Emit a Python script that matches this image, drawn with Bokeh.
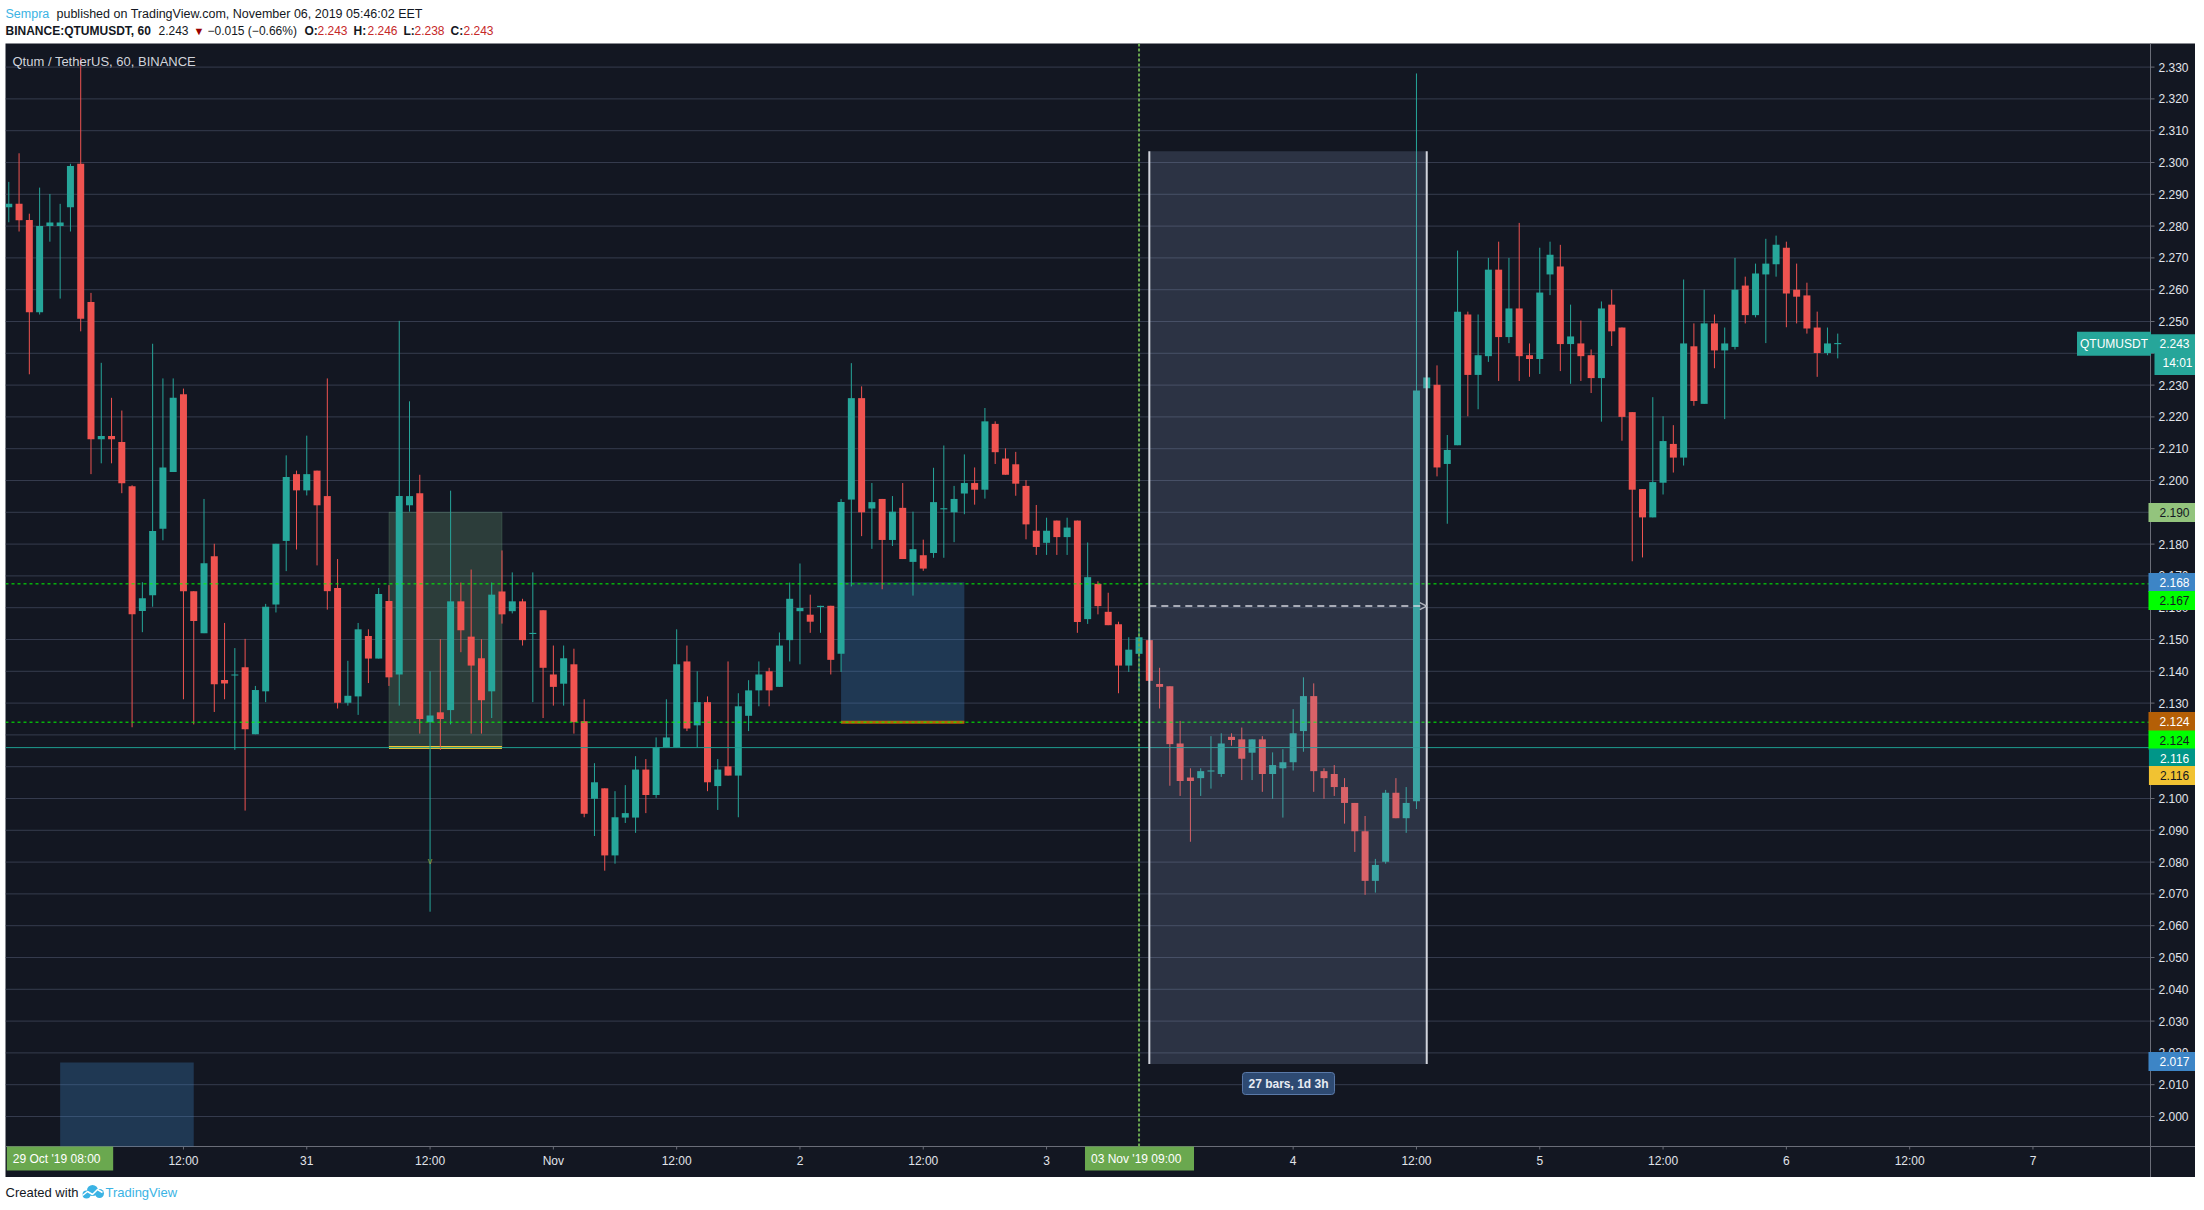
import numpy as np
from bokeh.plotting import figure
from bokeh.models import Range1d, Label, Arrow, OpenHead, ColumnDataSource
from bokeh.layouts import column
from bokeh.embed import file_html
from bokeh.resources import INLINE
from bokeh.core.properties import value

# ---------------- data (1h bars, hours from 01 Nov 2019 00:00) ----------------
hours = list(range(-53, 126))

opens = [2.2859, 2.2870, 2.2819, 2.2529, 2.2800, 2.2800, 2.2859, 2.2996, 2.2561, 2.2130,
         2.2140, 2.2121, 2.1982, 2.1590, 2.1639, 2.1848, 2.2027, 2.2271, 2.1652, 2.1520,
         2.1762, 2.1373, 2.1387, 2.1413, 2.1202, 2.1337, 2.1610, 2.1810, 2.2020, 2.1969,
         2.2031, 2.1951, 2.1662, 2.1301, 2.1321, 2.1511, 2.1440, 2.1621, 2.1390, 2.1922,
         2.1960, 2.1240, 2.1271, 2.1278, 2.1620, 2.1509, 2.1441, 2.1337, 2.1651, 2.1589,
         2.1620, 2.1518, 2.1592, 2.1390, 2.1361, 2.1422, 2.1243, 2.0999, 2.1032, 2.0821,
         2.0940, 2.0940, 2.1091, 2.1011, 2.1161, 2.1161, 2.1431, 2.1230, 2.1303, 2.1039,
         2.1101, 2.1072, 2.1260, 2.1340, 2.1400, 2.1351, 2.1498, 2.1589, 2.1578, 2.1603,
         2.1606, 2.1455, 2.1940, 2.2259, 2.1912, 2.1942, 2.1813, 2.1914, 2.1744, 2.1765,
         2.1772, 2.1910, 2.1900, 2.1959, 2.1992, 2.1971, 2.2178, 2.2069, 2.2051, 2.1983,
         2.1842, 2.1804, 2.1874, 2.1822, 2.1874, 2.1564, 2.1675, 2.1587, 2.1548, 2.1418,
         2.1455, 2.1498, 2.1360, 2.1353, 2.1173, 2.1066, 2.1064, 2.1086, 2.1077, 2.1194,
         2.1186, 2.1144, 2.1186, 2.1077, 2.1095, 2.1114, 2.1212, 2.1322, 2.1086, 2.1077,
         2.1036, 2.0986, 2.0897, 2.0741, 2.0801, 2.1018, 2.0938, 2.0991, 2.2290, 2.2301,
         2.2052, 2.2111, 2.2522, 2.2332, 2.2391, 2.2663, 2.2451, 2.2541, 2.2394, 2.2382,
         2.2648, 2.2673, 2.2429, 2.2431, 2.2394, 2.2322, 2.2553, 2.2481, 2.2215, 2.1973,
         2.1884, 2.1993, 2.2115, 2.2072, 2.2422, 2.2241, 2.2494, 2.2409, 2.2420, 2.2613,
         2.2520, 2.2648, 2.2680, 2.2732, 2.2600, 2.2582, 2.2481, 2.2401, 2.2430]

highs = [2.2939, 2.3029, 2.2839, 2.2921, 2.2901, 2.2870, 2.2996, 2.3330, 2.2590, 2.2370,
         2.2260, 2.2220, 2.1985, 2.1680, 2.2430, 2.2321, 2.2321, 2.2289, 2.1652, 2.1942,
         2.1801, 2.1552, 2.1473, 2.1502, 2.1354, 2.1612, 2.1801, 2.2079, 2.2031, 2.2141,
         2.2031, 2.2321, 2.1753, 2.1433, 2.1552, 2.1532, 2.1662, 2.1671, 2.2502, 2.2249,
         2.2018, 2.1400, 2.1501, 2.1968, 2.1679, 2.1720, 2.1501, 2.1679, 2.1780, 2.1711,
         2.1628, 2.1711, 2.1592, 2.1481, 2.1481, 2.1471, 2.1312, 2.1111, 2.1032, 2.1023,
         2.1042, 2.1133, 2.1124, 2.1192, 2.1312, 2.1532, 2.1481, 2.1400, 2.1321, 2.1124,
         2.1431, 2.1331, 2.1372, 2.1431, 2.1411, 2.1522, 2.1679, 2.1739, 2.1641, 2.1606,
         2.1606, 2.1942, 2.2369, 2.2296, 2.1992, 2.1942, 2.1951, 2.1992, 2.1902, 2.1814,
         2.2040, 2.2110, 2.1983, 2.2082, 2.2041, 2.2228, 2.2186, 2.2101, 2.2090, 2.2001,
         2.1923, 2.1883, 2.1874, 2.1883, 2.1874, 2.1805, 2.1683, 2.1647, 2.1556, 2.1507,
         2.1538, 2.1500, 2.1411, 2.1353, 2.1244, 2.1095, 2.1095, 2.1196, 2.1205, 2.1205,
         2.1223, 2.1186, 2.1196, 2.1145, 2.1155, 2.1281, 2.1381, 2.1362, 2.1095, 2.1105,
         2.1064, 2.0986, 2.0945, 2.0810, 2.1027, 2.1064, 2.1036, 2.3280, 2.2324, 2.2362,
         2.2143, 2.2723, 2.2531, 2.2522, 2.2700, 2.2751, 2.2700, 2.2810, 2.2431, 2.2732,
         2.2751, 2.2741, 2.2553, 2.2503, 2.2412, 2.2563, 2.2600, 2.2481, 2.2215, 2.1973,
         2.2262, 2.2202, 2.2174, 2.2632, 2.2494, 2.2600, 2.2522, 2.2481, 2.2700, 2.2641,
         2.2682, 2.2760, 2.2770, 2.2751, 2.2682, 2.2622, 2.2531, 2.2481, 2.2462]

lows = [2.2812, 2.2783, 2.2334, 2.2522, 2.2751, 2.2572, 2.2783, 2.2469, 2.2020, 2.2054,
        2.2054, 2.1960, 2.1224, 2.1523, 2.1603, 2.1812, 2.2027, 2.1312, 2.1233, 2.1520,
        2.1272, 2.1312, 2.1153, 2.0962, 2.1202, 2.1303, 2.1585, 2.1715, 2.1783, 2.1953,
        2.1733, 2.1594, 2.1283, 2.1292, 2.1263, 2.1363, 2.1440, 2.1354, 2.1292, 2.1902,
        2.1204, 2.0644, 2.1153, 2.1233, 2.1460, 2.1204, 2.1204, 2.1253, 2.1550, 2.1582,
        2.1481, 2.1303, 2.1253, 2.1292, 2.1292, 2.1204, 2.0941, 2.0882, 2.0773, 2.0795,
        2.0923, 2.0892, 2.0954, 2.1002, 2.1161, 2.1161, 2.1212, 2.1161, 2.1023, 2.0964,
        2.1072, 2.0941, 2.1212, 2.1290, 2.1290, 2.1351, 2.1431, 2.1422, 2.1521, 2.1521,
        2.1390, 2.1398, 2.1667, 2.1825, 2.1785, 2.1658, 2.1794, 2.1753, 2.1638, 2.1716,
        2.1757, 2.1757, 2.1806, 2.1894, 2.1924, 2.1943, 2.2052, 2.2018, 2.1952, 2.1815,
        2.1766, 2.1766, 2.1766, 2.1766, 2.1521, 2.1549, 2.1579, 2.1545, 2.1331, 2.1398,
        2.1339, 2.1370, 2.1283, 2.1040, 2.1008, 2.0864, 2.1008, 2.1031, 2.1068, 2.1166,
        2.1058, 2.1058, 2.1021, 2.0999, 2.0940, 2.1088, 2.1147, 2.1021, 2.0999, 2.1008,
        2.0921, 2.0832, 2.0697, 2.0704, 2.0795, 2.0938, 2.0892, 2.0967, 2.2290, 2.2013,
        2.1864, 2.2111, 2.2202, 2.2224, 2.2373, 2.2313, 2.2432, 2.2313, 2.2326, 2.2335,
        2.2583, 2.2344, 2.2304, 2.2313, 2.2275, 2.2185, 2.2423, 2.2125, 2.1746, 2.1758,
        2.1884, 2.1956, 2.2025, 2.2047, 2.2235, 2.2241, 2.2353, 2.2193, 2.2412, 2.2494,
        2.2513, 2.2432, 2.2641, 2.2482, 2.2494, 2.2462, 2.2326, 2.2394, 2.2384]

closes = [2.2870, 2.2818, 2.2529, 2.2800, 2.2811, 2.2811, 2.2989, 2.2509, 2.2130, 2.2140,
          2.2130, 2.1991, 2.1579, 2.1630, 2.1841, 2.2041, 2.2260, 2.1652, 2.1558, 2.1740,
          2.1359, 2.1362, 2.1390, 2.1218, 2.1341, 2.1603, 2.1801, 2.2011, 2.1969, 2.2020,
          2.1922, 2.1652, 2.1301, 2.1323, 2.1532, 2.1440, 2.1643, 2.1381, 2.1951, 2.1951,
          2.1250, 2.1261, 2.1250, 2.1620, 2.1529, 2.1418, 2.1309, 2.1641, 2.1579, 2.1620,
          2.1498, 2.1520, 2.1411, 2.1351, 2.1441, 2.1240, 2.0952, 2.1051, 2.0821, 2.0941,
          2.0954, 2.1091, 2.1011, 2.1161, 2.1192, 2.1422, 2.1220, 2.1303, 2.1051, 2.1091,
          2.1072, 2.1290, 2.1340, 2.1390, 2.1340, 2.1481, 2.1628, 2.1599, 2.1556, 2.1605,
          2.1436, 2.1932, 2.2259, 2.1900, 2.1932, 2.1813, 2.1902, 2.1753, 2.1784, 2.1723,
          2.1932, 2.1912, 2.1942, 2.1992, 2.1971, 2.2186, 2.2089, 2.2018, 2.1990, 2.1862,
          2.1791, 2.1842, 2.1822, 2.1852, 2.1555, 2.1696, 2.1605, 2.1545, 2.1418, 2.1468,
          2.1507, 2.1370, 2.1351, 2.1171, 2.1055, 2.1055, 2.1086, 2.1087, 2.1173, 2.1184,
          2.1125, 2.1186, 2.1077, 2.1105, 2.1114, 2.1205, 2.1322, 2.1086, 2.1064, 2.1036,
          2.0986, 2.0897, 2.0741, 2.0791, 2.1018, 2.0938, 2.0986, 2.2283, 2.2324, 2.2041,
          2.2096, 2.2531, 2.2332, 2.2394, 2.2663, 2.2451, 2.2541, 2.2391, 2.2382, 2.2591,
          2.2710, 2.2429, 2.2453, 2.2391, 2.2322, 2.2541, 2.2469, 2.2200, 2.1971, 2.1884,
          2.1995, 2.2124, 2.2072, 2.2431, 2.2250, 2.2494, 2.2409, 2.2431, 2.2600, 2.2520,
          2.2651, 2.2682, 2.2741, 2.2588, 2.2578, 2.2478, 2.2401, 2.2431, 2.2431]

price_ticks = [round(2.00 + 0.01 * i, 2) for i in range(34)]
time_tick_hours = [-36, -24, -12, 0, 12, 24, 36, 48, 72, 84, 96, 108, 120, 132, 144]
time_tick_labels = ["12:00", "31", "12:00", "Nov", "12:00", "2", "12:00", "3",
                    "4", "12:00", "5", "12:00", "6", "12:00", "7"]

# drawings on the chart (hours, prices)
green_zone = [-16.0, -5.0, 2.190, 2.116]
blue_zone = [28.0, 40.0, 2.168, 2.124]
corner_zone = [-48.0, -35.0, 2.017]
range_box = [58.0, 85.0, 2.3035, 2.0165]
range_mid = 2.1605
green_hlines = [2.1675, 2.124]
teal_hline = 2.116
marked_hour = 57

# ---------------- style / geometry ----------------
BG = "#131722"
GRID = "#363c4e"
UP = "#26a69a"
DOWN = "#ef5350"
AXC = "#e1e4ea"
SEP = "#6a6d78"
FONT = "Liberation Sans"
BLUE_TXT = "#3bb3e4"

PAGE_W = 2200
H_HDR, H_MAIN, H_FTR = 43, 1134, 28
MAIN_LEFT = 5                    # page x of the dark pane
MAIN_W = 2190
PX_H = 10.275                    # pixels per hour
PX_P = 3180.0                    # pixels per price unit
T0 = -53.32                      # hour at pane left edge
P_TOP = 2.33742                  # price at pane top edge
T_END = T0 + MAIN_W / PX_H
P_BOT = P_TOP - H_MAIN / PX_P
SEP_X = 2150 - MAIN_LEFT         # price-scale separator (pane px)
SEP_Y = 1146 - 43                # time-scale separator (pane px from top)
T_SEP = T0 + SEP_X / PX_H
P_SEP = P_TOP - SEP_Y / PX_P

# ---------------- main pane ----------------
p = figure(width=MAIN_W, height=H_MAIN, x_range=Range1d(T0, T_END), y_range=Range1d(P_BOT, P_TOP),
           output_backend="svg", toolbar_location=None, title=None,
           x_axis_location=None, y_axis_location=None, min_border=0,
           background_fill_color=BG, border_fill_color=BG, outline_line_color=None,
           margin=(0, 0, 0, MAIN_LEFT))
p.grid.visible = False

# price scale: grid, ticks, labels
vis_ticks = [v for v in price_ticks if v > P_SEP]
p.segment(x0=[T0] * len(vis_ticks), x1=[T_SEP] * len(vis_ticks), y0=vis_ticks, y1=vis_ticks,
          line_color=GRID, line_width=1)
p.segment(x0=[T_SEP] * len(vis_ticks), x1=[T_SEP + 4 / PX_H] * len(vis_ticks),
          y0=vis_ticks, y1=vis_ticks, line_color=SEP, line_width=1)
p.text(x=[T_SEP + 8 / PX_H] * len(vis_ticks), y=vis_ticks, text=[f"{v:.3f}" for v in vis_ticks],
       text_color=AXC, text_font=value(FONT), text_font_size="12px",
       text_align="left", text_baseline="middle")

# time scale: ticks, labels
p.segment(x0=time_tick_hours, x1=time_tick_hours, y0=[P_SEP] * len(time_tick_hours),
          y1=[P_SEP - 3 / PX_P] * len(time_tick_hours), line_color=SEP, line_width=1)
p.text(x=time_tick_hours, y=[P_TOP - (1160 - 43) / PX_P] * len(time_tick_hours),
       text=time_tick_labels, text_color=AXC, text_font=value(FONT), text_font_size="12px",
       text_align="center", text_baseline="middle")

# separators
p.segment(x0=[T_SEP, T0], x1=[T_SEP, T_END], y0=[P_BOT, P_SEP], y1=[P_TOP, P_SEP],
          line_color=SEP, line_width=1)

# zones under the candles
p.quad(left=[corner_zone[0]], right=[corner_zone[1]], top=[corner_zone[2]], bottom=[P_SEP],
       fill_color="#3d85c6", fill_alpha=0.3, line_color=None)
p.quad(left=[green_zone[0]], right=[green_zone[1]], top=[green_zone[2]], bottom=[green_zone[3]],
       fill_color="#7fb88a", fill_alpha=0.24, line_color="#7fb88a", line_alpha=0.2)
p.segment(x0=[green_zone[0]], x1=[green_zone[1]], y0=[green_zone[3]], y1=[green_zone[3]],
          line_color="#f1c232", line_width=3)
p.quad(left=[blue_zone[0]], right=[blue_zone[1]], top=[blue_zone[2]], bottom=[blue_zone[3]],
       fill_color="#3d85c6", fill_alpha=0.3, line_color=None)
p.segment(x0=[blue_zone[0]], x1=[blue_zone[1]], y0=[blue_zone[3]], y1=[blue_zone[3]],
          line_color="#b45f06", line_width=3)

# candles
o = np.array(opens); c = np.array(closes)
up = c >= o
btop = np.maximum(o, c); bbot = np.minimum(o, c)
mid = (btop + bbot) / 2
thin = (btop - bbot) < 0.00035
btop = np.where(thin, mid + 0.000175, btop)
bbot = np.where(thin, mid - 0.000175, bbot)
src = ColumnDataSource(dict(t=hours, h=highs, l=lows, top=btop, bot=bbot,
                            color=[UP if u else DOWN for u in up]))
p.segment(x0="t", x1="t", y0="l", y1="h", line_color="color", line_width=1, source=src)
p.vbar(x="t", width=0.68, top="top", bottom="bot", fill_color="color", line_color=None, source=src)

# small marker on a wick
p.text(x=[-12], y=[2.0805], text=["v"], text_color="#8a9a3a", text_font=value(FONT),
       text_font_size="9px", text_align="center", text_baseline="middle")

# horizontal / vertical lines
n = len(green_hlines)
p.segment(x0=[T0] * n, x1=[T_SEP] * n, y0=green_hlines, y1=green_hlines,
          line_color="#00ff00", line_dash="3 3", line_width=1)
p.segment(x0=[T0], x1=[T_SEP], y0=[teal_hline], y1=[teal_hline], line_color="#1e9e90", line_width=1)
p.segment(x0=[marked_hour], x1=[marked_hour], y0=[P_SEP], y1=[P_TOP],
          line_color="#6aa84f", line_dash="3 2", line_width=2)

# date/price range box (over the candles)
p.quad(left=[range_box[0]], right=[range_box[1]], top=[range_box[2]], bottom=[range_box[3]],
       fill_color="#8a9ac0", fill_alpha=0.22, line_color=None)
p.segment(x0=[range_box[0], range_box[1]], x1=[range_box[0], range_box[1]],
          y0=[range_box[3]] * 2, y1=[range_box[2]] * 2, line_color="#d1d4dc", line_width=2)
p.add_layout(Arrow(end=OpenHead(size=7, line_color="#b2b5be", line_width=1.5),
                   x_start=range_box[0], y_start=range_mid, x_end=range_box[1], y_end=range_mid,
                   line_color="#d1d4dc", line_dash="7 5", line_width=1.5))

# title inside the pane
p.add_layout(Label(x=12 - MAIN_LEFT, y=H_MAIN - (61 - 43), x_units="screen", y_units="screen",
                   text="Qtum / TetherUS, 60, BINANCE", text_font=FONT, text_font_size="13px",
                   text_color="#d1d4dc", text_align="left", text_baseline="middle"))


def tag(text, ref_x, ref_y, bg, fg, pad_lr=11, pad_tb=5, size="12px", bold=False, radius=0,
        border=None):
    lab = Label(x=ref_x - MAIN_LEFT, y=H_MAIN - (ref_y - 43), x_units="screen", y_units="screen",
                text=text, text_font=FONT, text_font_size=size, text_color=fg,
                text_font_style="bold" if bold else "normal",
                text_align="center", text_baseline="middle",
                background_fill_color=bg, background_fill_alpha=1.0,
                padding=dict(left=pad_lr, right=pad_lr, top=pad_tb, bottom=pad_tb),
                border_radius=radius)
    if border:
        lab.border_line_color = border
        lab.border_line_width = 1
    p.add_layout(lab)


# price scale tags
tag("QTUMUSDT", 2113.5, 343.3, UP, "#ffffff", pad_lr=3)
tag("2.243", 2174, 343.3, UP, "#ffffff")
tag("14:01", 2177, 362.5, UP, "#ffffff", pad_lr=8)
tag("2.190", 2174, 512, "#93c47d", "#131722")
tag("2.168", 2174, 582, "#3d85c6", "#ffffff")
tag("2.167", 2174, 600, "#00ff00", "#131722")
tag("2.124", 2174, 721, "#b45f06", "#ffffff")
tag("2.124", 2174, 739.5, "#00ff00", "#131722")
tag("2.116", 2174, 757.5, "#009688", "#ffffff")
tag("2.116", 2174, 775, "#f1c232", "#131722")
tag("2.017", 2174, 1061, "#3d85c6", "#ffffff")

# time scale tags
tag("29 Oct '19   08:00", 59.5, 1158, "#6aa84f", "#ffffff", pad_lr=6, pad_tb=5)
tag("03 Nov '19   09:00", 1139, 1158, "#6aa84f", "#ffffff", pad_lr=6, pad_tb=5)

# range box info
tag("27 bars, 1d 3h", 1288, 1083, "#2e4a72", "#e8ecf4", pad_lr=6, pad_tb=4, bold=True,
    radius=3, border="#5a79a8")

# ---------------- header ----------------
hdr = figure(width=PAGE_W, height=H_HDR, x_range=Range1d(0, PAGE_W), y_range=Range1d(H_HDR, 0),
             output_backend="svg", toolbar_location=None, title=None,
             x_axis_location=None, y_axis_location=None, min_border=0,
             background_fill_color="#ffffff", border_fill_color="#ffffff", outline_line_color=None)
hdr.grid.visible = False

hdr_pieces = [
    ("Sempra", 5, 13, BLUE_TXT, "normal", "12.5px"),
    ("published on TradingView.com, November 06, 2019 05:46:02 EET", 56, 13, "#131722", "normal", "12.5px"),
    ("BINANCE:QTUMUSDT, 60", 5, 30, "#131722", "bold", "12px"),
    ("2.243", 158, 30, "#131722", "normal", "12px"),
    ("\u25bc", 193, 30, "#990000", "normal", "11px"),
    ("\u22120.015 (\u22120.66%)", 207, 30, "#131722", "normal", "12px"),
    ("O:", 304, 30, "#131722", "bold", "12px"),
    ("2.243", 317, 30, "#c62828", "normal", "12px"),
    ("H:", 353, 30, "#131722", "bold", "12px"),
    ("2.246", 367, 30, "#c62828", "normal", "12px"),
    ("L:", 403, 30, "#131722", "bold", "12px"),
    ("2.238", 414, 30, "#c62828", "normal", "12px"),
    ("C:", 450, 30, "#131722", "bold", "12px"),
    ("2.243", 463, 30, "#c62828", "normal", "12px"),
]
for txt, x, y, col, style, size in hdr_pieces:
    hdr.text(x=[x], y=[y], text=[txt], text_color=col, text_font=value(FONT),
             text_font_style=style, text_font_size=size, text_align="left",
             text_baseline="middle")

# ---------------- footer ----------------
ftr = figure(width=PAGE_W, height=H_FTR, x_range=Range1d(0, PAGE_W), y_range=Range1d(H_FTR, 0),
             output_backend="svg", toolbar_location=None, title=None,
             x_axis_location=None, y_axis_location=None, min_border=0,
             background_fill_color="#ffffff", border_fill_color="#ffffff", outline_line_color=None)
ftr.grid.visible = False
ftr.text(x=[5], y=[15], text=["Created with"], text_color="#131722", text_font=value(FONT),
         text_font_size="13px", text_align="left", text_baseline="middle")
ftr.scatter(x=[86, 92, 99], y=[17, 13, 16], size=[8, 11, 9], marker="circle",
            fill_color=BLUE_TXT, line_color=None)
ftr.line(x=[82, 87, 92, 97, 102], y=[18, 14, 17, 12, 15], line_color="#ffffff", line_width=1.5)
ftr.text(x=[105], y=[15], text=["TradingView"], text_color=BLUE_TXT, text_font=value(FONT),
         text_font_size="13px", text_align="left", text_baseline="middle")

layout = column(hdr, p, ftr, spacing=0)
open("out.html", "w").write(file_html(layout, INLINE))
